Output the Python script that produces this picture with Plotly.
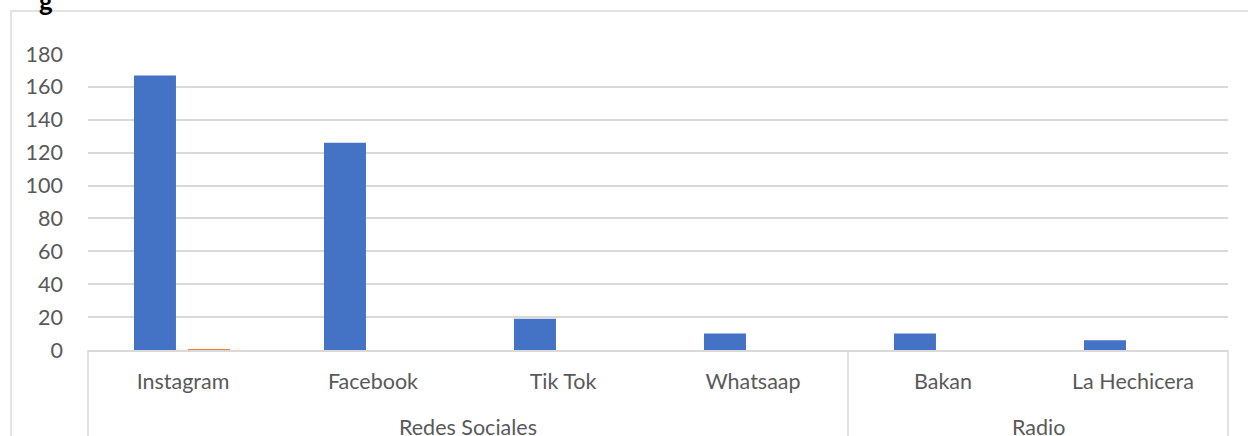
import plotly.graph_objects as go

categories = ["Instagram", "Facebook", "Tik Tok", "Whatsaap", "Bakan", "La Hechicera"]
groups = ["Redes Sociales", "Redes Sociales", "Redes Sociales", "Redes Sociales", "Radio", "Radio"]
series1 = [167, 126, 19, 10, 10, 6]
series2 = [0.5, 0, 0, 0, 0, 0]
y_ticks = [0, 20, 40, 60, 80, 100, 120, 140, 160, 180]

FONT = "Lato"
TXT = "#595959"
GRID = "#D9D9D9"
FS = 21.5

fig = go.Figure()
fig.add_trace(go.Bar(x=list(range(len(categories))), y=series1, marker_color="#4472C4",
                     width=0.221, offset=-0.258, marker_line_width=0, showlegend=False))
fig.add_trace(go.Bar(x=list(range(len(categories))), y=series2, marker_color="#ED7D31",
                     width=0.221, offset=0.026, marker_line_width=0, showlegend=False))

n = len(categories)
spans = []
start = 0
for i in range(1, n + 1):
    if i == n or groups[i] != groups[start]:
        spans.append((groups[start], start, i))
        start = i

shapes = []
shapes.append(dict(type="rect", xref="paper", yref="paper", x0=-0.0675, x1=1.05, y0=-0.5, y1=1.145,
                   line=dict(color=GRID, width=1.5), fillcolor="rgba(0,0,0,0)", layer="below"))
bounds = [0] + [e for _, _, e in spans]
for b in bounds:
    shapes.append(dict(type="line", xref="paper", yref="paper", x0=b / n, x1=b / n, y0=0, y1=-0.4,
                       line=dict(color=GRID, width=1.5)))

annotations = []
for name, s, e in spans:
    annotations.append(dict(x=(s + e - 1) / 2, xref="x", y=-0.26, yref="paper", text=name,
                            showarrow=False, font=dict(family=FONT, size=FS, color=TXT),
                            xanchor="center", yanchor="middle"))
annotations.append(dict(x=-0.0445, xref="paper", y=1.24, yref="paper", text="<b>g</b>",
                        showarrow=False, font=dict(family=FONT, size=26, color="black"),
                        xanchor="left", yanchor="top"))

fig.update_layout(
    width=1248, height=436,
    margin=dict(l=88, r=20, t=54, b=86),
    paper_bgcolor="white", plot_bgcolor="white",
    barmode="group",
    shapes=shapes, annotations=annotations,
    xaxis=dict(tickmode="array", tickvals=list(range(n)), ticktext=categories,
               range=[-0.5, n - 0.5], showgrid=False, showline=True, linecolor=GRID, linewidth=1.5,
               ticks="", tickfont=dict(family=FONT, size=FS, color=TXT), ticklabelstandoff=11,
               zeroline=False),
    yaxis=dict(range=[0, 180], tickvals=y_ticks, showgrid=True, gridcolor=GRID, gridwidth=1.5,
               zeroline=False, showline=False, ticks="", ticklabelstandoff=24,
               tickfont=dict(family=FONT, size=FS, color=TXT)),
    font=dict(family=FONT, color=TXT),
)

fig.write_html("out.html")
